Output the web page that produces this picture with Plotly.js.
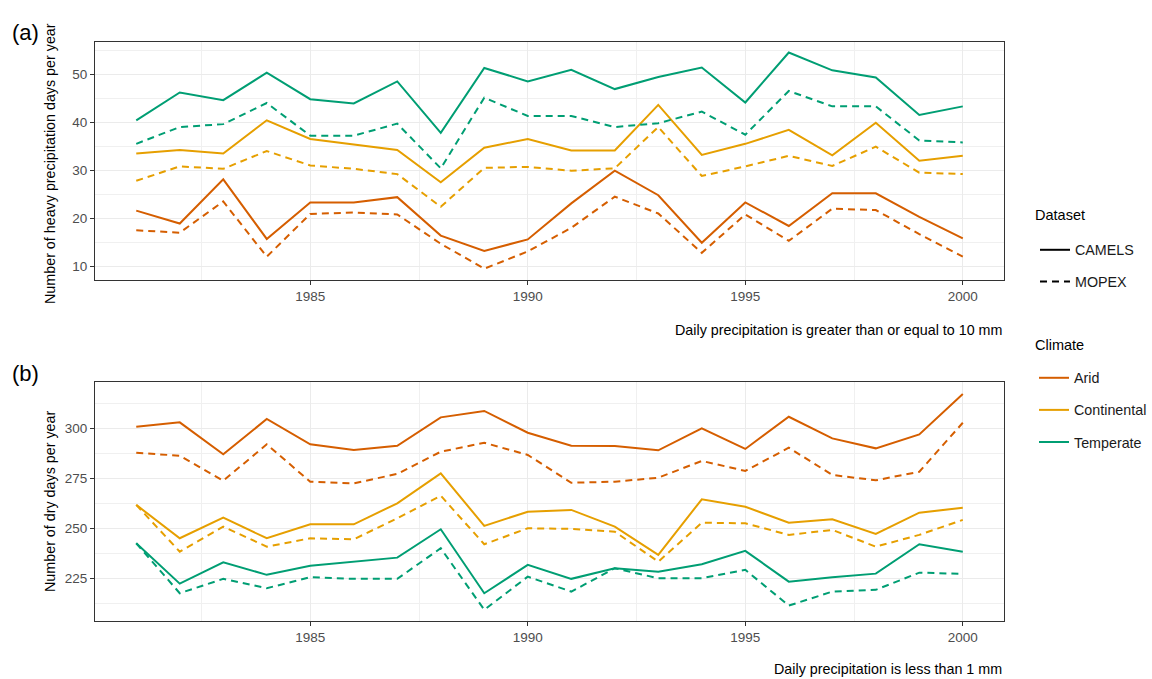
<!DOCTYPE html>
<html>
<head>
<meta charset="utf-8">
<script src="https://cdn.plot.ly/plotly-3.0.1.min.js"></script>
<style>html,body{margin:0;padding:0;background:#fff;}#chart{width:1152px;height:679px;}</style>
</head>
<body>
<div id="chart"></div>
<script>
// ---------- data ----------
const years = [1981,1982,1983,1984,1985,1986,1987,1988,1989,1990,1991,1992,1993,1994,1995,1996,1997,1998,1999,2000];
const climates = ["Arid","Continental","Temperate"];
const datasets = ["CAMELS","MOPEX"];
const xTicks = [1985,1990,1995,2000];

// (a) heavy precipitation days (>= 10 mm)
const heavyAridCAMELS  = [21.6,18.9,28.1,15.7,23.3,23.3,24.4,16.4,13.2,15.6,23.1,29.9,24.8,14.9,23.3,18.4,25.2,25.2,20.3,15.8];
const heavyAridMOPEX   = [17.5,17.0,23.5,12.0,20.9,21.2,20.8,14.7,9.5,13.1,18.0,24.5,21.0,12.8,20.8,15.3,22.0,21.7,16.7,12.0];
const heavyContCAMELS  = [33.5,34.2,33.5,40.4,36.5,35.4,34.2,27.5,34.7,36.5,34.1,34.1,43.6,33.2,35.5,38.4,33.1,39.9,32.0,33.0];
const heavyContMOPEX   = [27.8,30.8,30.3,34.0,31.0,30.3,29.2,22.4,30.5,30.7,29.9,30.4,39.0,28.8,30.8,33.0,30.9,34.9,29.5,29.2];
const heavyTempCAMELS  = [40.4,46.2,44.6,50.3,44.8,43.9,48.5,37.8,51.3,48.5,50.9,46.9,49.4,51.4,44.1,54.5,50.8,49.3,41.5,43.3];
const heavyTempMOPEX   = [35.5,39.0,39.6,44.0,37.2,37.2,39.7,30.4,45.1,41.3,41.3,39.0,39.8,42.2,37.4,46.5,43.3,43.3,36.2,35.8];

// (b) dry days (< 1 mm)
const dryAridCAMELS = [300.8,303.0,287.0,304.7,292.0,289.2,291.3,305.5,308.7,297.8,291.3,291.2,289.0,300.0,289.7,305.8,295.0,290.0,297.0,317.2];
const dryAridMOPEX  = [287.8,286.3,273.8,292.0,273.3,272.5,277.2,288.3,292.8,286.7,272.8,273.3,275.3,283.7,278.7,290.3,276.7,274.0,278.3,302.8];
const dryContCAMELS = [261.7,245.0,255.3,245.0,252.0,252.0,262.5,277.5,251.2,258.3,259.2,250.8,236.7,264.5,260.8,252.8,254.5,247.2,257.8,260.3];
const dryContMOPEX  = [261.7,238.3,250.8,240.8,245.0,244.5,255.0,266.3,242.0,250.0,249.7,248.3,233.3,252.8,252.5,246.7,249.2,240.8,246.7,254.2];
const dryTempCAMELS = [242.5,222.3,233.0,226.7,231.2,233.3,235.3,249.5,217.5,231.7,224.7,230.0,228.3,232.0,238.7,223.3,225.5,227.3,242.0,238.3];
const dryTempMOPEX  = [242.5,217.5,224.7,220.0,225.5,224.7,224.7,240.0,209.2,225.8,218.3,230.0,225.0,225.0,229.2,211.3,218.3,219.2,227.8,227.2];

// ---------- styling ----------
const W = 1152, H = 679;
const FONT = "Liberation Sans, Arial, Helvetica, sans-serif";
const colors = {Arid:"#D55E00", Continental:"#E69F00", Temperate:"#009E73"};
const dashes = {CAMELS:"solid", MOPEX:"7px,5px"};
const px = v => v / W;
const py = v => 1 - v / H;

const heavy = {
  Arid: {CAMELS: heavyAridCAMELS, MOPEX: heavyAridMOPEX},
  Continental: {CAMELS: heavyContCAMELS, MOPEX: heavyContMOPEX},
  Temperate: {CAMELS: heavyTempCAMELS, MOPEX: heavyTempMOPEX}
};
const dry = {
  Arid: {CAMELS: dryAridCAMELS, MOPEX: dryAridMOPEX},
  Continental: {CAMELS: dryContCAMELS, MOPEX: dryContMOPEX},
  Temperate: {CAMELS: dryTempCAMELS, MOPEX: dryTempMOPEX}
};

const traces = [];
[[heavy, "x", "y"], [dry, "x2", "y2"]].forEach(([src, xa, ya]) => {
  climates.forEach(c => {
    datasets.forEach(d => {
      traces.push({
        type: "scatter", mode: "lines", x: years, y: src[c][d],
        xaxis: xa, yaxis: ya, showlegend: false,
        line: {color: colors[c], width: 2, dash: dashes[d]},
        name: c + " " + d, hoverinfo: "x+y+name"
      });
    });
  });
});
// legend entries
datasets.forEach(d => traces.push({
  type: "scatter", mode: "lines", x: [null], y: [null], xaxis: "x", yaxis: "y",
  name: d, legend: "legend", legendgroup: "ds_" + d, showlegend: true,
  line: {color: "#000000", width: 2, dash: dashes[d]}
}));
climates.forEach(c => traces.push({
  type: "scatter", mode: "lines", x: [null], y: [null], xaxis: "x", yaxis: "y",
  name: c, legend: "legend2", legendgroup: "cl_" + c, showlegend: true,
  line: {color: colors[c], width: 2, dash: "solid"}
}));

const TICKFONT = {family: FONT, size: 13.5, color: "#4D4D4D"};
const xDomain = [px(95), px(1005)];
function xAxis(anchor) {
  return {
    domain: xDomain, anchor: anchor, range: [1980.05, 2000.95],
    tickmode: "array", tickvals: xTicks, ticktext: xTicks.map(String),
    ticks: "outside", ticklen: 4, tickcolor: "#333333", tickwidth: 1,
    tickfont: TICKFONT,
    showline: true, mirror: true, linecolor: "#333333", linewidth: 1,
    showgrid: true, gridcolor: "#EBEBEB", gridwidth: 1,
    minor: {dtick: 2.5, tick0: 1980, showgrid: true, gridcolor: "#F0F0F0", gridwidth: 1},
    zeroline: false, fixedrange: true
  };
}
function yAxis(anchor, domain, range, dtick, tick0) {
  return {
    domain: domain, anchor: anchor, range: range,
    dtick: dtick, tick0: tick0,
    ticks: "outside", ticklen: 4, tickcolor: "#333333", tickwidth: 1,
    tickfont: TICKFONT,
    showline: true, mirror: true, linecolor: "#333333", linewidth: 1,
    showgrid: true, gridcolor: "#EBEBEB", gridwidth: 1,
    minor: {dtick: dtick / 2, tick0: tick0, showgrid: true, gridcolor: "#F0F0F0", gridwidth: 1},
    zeroline: false, fixedrange: true
  };
}

const TITLEFONT = {family: FONT, size: 14.3, color: "#000"};
const layout = {
  width: W, height: H,
  margin: {l: 0, r: 0, t: 0, b: 0},
  paper_bgcolor: "#ffffff", plot_bgcolor: "#ffffff",
  font: {family: FONT, color: "#000000"},
  xaxis: xAxis("y"),
  yaxis: yAxis("x", [py(280), py(42)], [7.15, 56.7], 10, 0),
  xaxis2: xAxis("y2"),
  yaxis2: yAxis("x2", [py(621), py(382)], [203.6, 323.2], 25, 0),
  showlegend: true,
  legend: {
    x: px(1035), xanchor: "left", y: py(234), yanchor: "top",
    bgcolor: "rgba(0,0,0,0)", borderwidth: 0, tracegroupgap: 10,
    font: {family: FONT, size: 14.3, color: "#1a1a1a"}
  },
  legend2: {
    x: px(1035), xanchor: "left", y: py(362), yanchor: "top",
    bgcolor: "rgba(0,0,0,0)", borderwidth: 0, tracegroupgap: 10.5,
    font: {family: FONT, size: 14.3, color: "#1a1a1a"}
  },
  annotations: [
    {text: "(a)", xref: "paper", yref: "paper", x: px(26), y: py(32), xanchor: "center", yanchor: "middle", showarrow: false, font: {family: FONT, size: 22, color: "#000"}},
    {text: "(b)", xref: "paper", yref: "paper", x: px(26), y: py(373), xanchor: "center", yanchor: "middle", showarrow: false, font: {family: FONT, size: 22, color: "#000"}},
    {text: "Number of heavy precipitation days per year", xref: "paper", yref: "paper", x: px(50), y: py(163), xanchor: "center", yanchor: "middle", textangle: -90, showarrow: false, font: TITLEFONT},
    {text: "Number of dry days per year", xref: "paper", yref: "paper", x: px(50), y: py(501), xanchor: "center", yanchor: "middle", textangle: -90, showarrow: false, font: TITLEFONT},
    {text: "Daily precipitation is greater than or equal to 10 mm", xref: "paper", yref: "paper", x: px(1005), y: py(330), xanchor: "right", yanchor: "middle", showarrow: false, font: TITLEFONT},
    {text: "Daily precipitation is less than 1 mm", xref: "paper", yref: "paper", x: px(1005), y: py(669), xanchor: "right", yanchor: "middle", showarrow: false, font: TITLEFONT},
    {text: "Dataset", xref: "paper", yref: "paper", x: px(1034), y: py(215), xanchor: "left", yanchor: "middle", showarrow: false, font: {family: FONT, size: 14.5, color: "#000"}},
    {text: "Climate", xref: "paper", yref: "paper", x: px(1034), y: py(345), xanchor: "left", yanchor: "middle", showarrow: false, font: {family: FONT, size: 14.5, color: "#000"}}
  ]
};

Plotly.newPlot("chart", traces, layout, {displayModeBar: false, staticPlot: true});
</script>
</body>
</html>
